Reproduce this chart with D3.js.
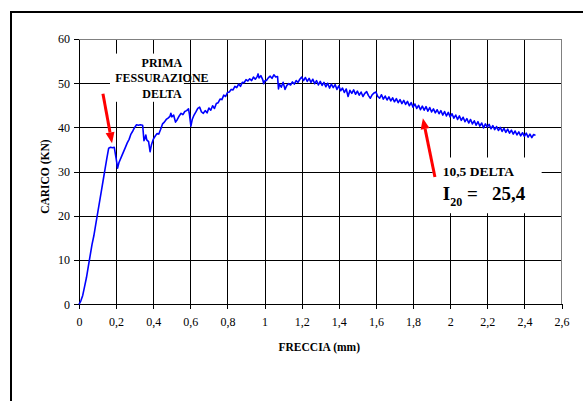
<!DOCTYPE html>
<html>
<head>
<meta charset="utf-8">
<script src="https://cdn.jsdelivr.net/npm/d3@7"></script>
<style>
  body { margin: 0; background: #fff; }
  svg { display: block; }
  svg text { font-family: "Liberation Serif", "DejaVu Serif", serif; }
</style>
</head>
<body>
<svg width="583" height="401"></svg>
<script>
// freccia (mm) / carico (kN)
const freccia = [
  0, 0.01, 0.02, 0.03, 0.04, 0.05, 0.06, 0.07, 0.08, 0.09, 0.10, 0.11, 0.12, 0.13, 0.14, 0.15, 0.16, 0.17, 0.18, 0.19,
  0.20, 0.208, 0.215, 0.23, 0.25, 0.26, 0.27, 0.28, 0.29, 0.30, 0.31, 0.32, 0.33, 0.343, 0.35, 0.355, 0.36, 0.365, 0.375, 0.383,
  0.39, 0.40, 0.41, 0.42, 0.43, 0.44, 0.45, 0.46, 0.47, 0.48, 0.49, 0.495, 0.50, 0.51, 0.52, 0.53, 0.54, 0.55, 0.56, 0.57,
  0.58, 0.59, 0.595, 0.603, 0.61, 0.62, 0.63, 0.64, 0.65, 0.66, 0.67, 0.68, 0.69, 0.70, 0.71, 0.72, 0.73, 0.74, 0.75, 0.76,
  0.77, 0.78, 0.79, 0.80, 0.81, 0.82, 0.83, 0.84, 0.85, 0.86, 0.87, 0.88, 0.89, 0.90, 0.91, 0.92, 0.93, 0.94, 0.95, 0.96,
  0.965, 0.97, 0.98, 0.99, 0.995, 1.00, 1.01, 1.02, 1.03, 1.04, 1.05, 1.06, 1.07, 1.075, 1.08, 1.09, 1.10, 1.11, 1.12, 1.13,
  1.14, 1.15, 1.16, 1.17, 1.18, 1.19, 1.20, 1.21, 1.22, 1.23, 1.24, 1.25, 1.26, 1.27, 1.28, 1.29, 1.30, 1.31, 1.32, 1.33,
  1.34, 1.35, 1.36, 1.37, 1.38, 1.39, 1.40, 1.41, 1.42, 1.43, 1.44, 1.45, 1.46, 1.47, 1.48, 1.49, 1.50, 1.51, 1.52, 1.53,
  1.54, 1.55, 1.56, 1.57, 1.58, 1.59, 1.60, 1.61, 1.62, 1.63, 1.64, 1.65, 1.66, 1.67, 1.68, 1.69, 1.70, 1.71, 1.72, 1.73,
  1.74, 1.75, 1.76, 1.77, 1.78, 1.79, 1.80, 1.81, 1.82, 1.83, 1.84, 1.85, 1.86, 1.87, 1.88, 1.89, 1.90, 1.91, 1.92, 1.93,
  1.94, 1.95, 1.96, 1.97, 1.98, 1.99, 2.00, 2.01, 2.02, 2.03, 2.04, 2.05, 2.06, 2.07, 2.08, 2.09, 2.10, 2.11, 2.12, 2.13,
  2.14, 2.15, 2.16, 2.17, 2.18, 2.19, 2.20, 2.21, 2.22, 2.23, 2.24, 2.25, 2.26, 2.27, 2.28, 2.29, 2.30, 2.31, 2.32, 2.33,
  2.34, 2.35, 2.36, 2.37, 2.38, 2.39, 2.40, 2.41, 2.42, 2.43, 2.44, 2.45, 2.46
]
const carico = [
  0, 0.8, 2, 4, 6, 8.5, 11, 13.5, 15.5, 18, 20.5, 23, 25.5, 28, 30.5, 33, 35.3, 35.5, 35.4, 35.5,
  33, 30.8, 32, 33.5, 35.5, 36.5, 37.3, 38.5, 39.2, 40, 40.6, 40.5, 40.6, 40.5, 37, 37.5, 38.3, 37.2, 36.8, 34.5,
  36, 37.3, 38, 38.6, 38.5, 39.6, 40.8, 41.2, 41.8, 42.1, 42.5, 43.2, 42.4, 42.8, 41.2, 41.8, 42.6, 43.2, 42.9, 43.6,
  43.8, 44.2, 43, 40.3, 41.8, 42.8, 43.5, 44.3, 44.6, 43.5, 43.2, 43.8, 43.3, 44.4, 43.9, 44.9, 44.3, 45.4, 45.6, 46.4,
  46.3, 47.3, 47.0, 47.9, 48.0, 48.6, 48.5, 49.3, 49.0, 49.8, 49.3, 50.2, 50.1, 50.8, 50.5, 51.0, 50.6, 51.4, 50.9, 51.5,
  52.1, 51.2, 51.7, 50.8, 49.9, 50.5, 50.6, 51.2, 51.6, 51.1, 51.9, 51.4, 51.5, 48.7, 49.8, 49.1, 50.2, 48.6, 49.5, 49.9,
  49.6, 50.3, 49.8, 50.6, 50.2, 50.9, 51.4, 50.6, 51.3, 50.4, 51.1, 50.2, 50.9, 49.9, 50.6, 49.6, 50.4, 49.5, 50.2, 49.2,
  50.0, 48.9, 49.8, 49.0, 49.7, 48.6, 49.4, 48.3, 48.9, 47.9, 48.7, 47.0, 48.4, 47.7, 48.5, 47.5, 48.2, 47.3, 48.0, 47.0,
  47.7, 48.1, 47.2, 46.6, 47.4, 47.8, 48.0, 47.0, 46.6, 47.4, 46.4, 47.1, 46.2, 46.9, 46.0, 46.7, 45.8, 46.5, 45.6, 46.3,
  45.4, 46.1, 45.2, 45.9, 44.9, 45.6, 44.6, 45.3, 44.3, 45.0, 44.0, 44.8, 43.9, 44.7, 43.7, 44.5, 43.5, 44.2, 43.3, 44.0,
  43.1, 43.8, 42.8, 43.6, 42.6, 43.4, 42.4, 43.1, 42.1, 42.8, 41.8, 42.6, 41.6, 42.3, 41.3, 42.0, 41.0, 41.8, 40.8, 41.5,
  40.5, 41.3, 40.3, 41.0, 39.9, 40.8, 40.1, 40.7, 39.7, 40.4, 39.5, 40.2, 39.3, 40.0, 39.1, 39.8, 38.9, 39.6, 38.7, 39.4,
  38.5, 39.2, 38.3, 39.0, 38.1, 38.8, 38.0, 38.7, 37.8, 38.5, 37.7, 38.4, 38.2
]
const xTicks = [0, 0.2, 0.4, 0.6, 0.8, 1, 1.2, 1.4, 1.6, 1.8, 2, 2.2, 2.4, 2.6]
const yTicks = [0, 10, 20, 30, 40, 50, 60]

const svg = d3.select("svg")

// outer frame
svg.append("rect")
    .attr("x", 11).attr("y", 12)
    .attr("width", 600).attr("height", 420)
    .attr("fill", "#fff").attr("stroke", "#000").attr("stroke-width", 2)

const margin = {top: 39, left: 79}
const width = 482.5, height = 265.3

const x = d3.scaleLinear().domain([0, 2.6]).range([0, width])
const y = d3.scaleLinear().domain([0, 60]).range([height, 0])

const g = svg.append("g").attr("transform", `translate(${margin.left},${margin.top})`)

// grid
g.selectAll(".vgrid").data(xTicks.slice(1, -1)).enter().append("line")
    .attr("x1", d => Math.round(x(d)) + 0.5).attr("x2", d => Math.round(x(d)) + 0.5)
    .attr("y1", 0).attr("y2", height)
    .attr("stroke", "#000").attr("stroke-width", 1).attr("shape-rendering", "crispEdges")
g.selectAll(".hgrid").data(yTicks.slice(1, -1)).enter().append("line")
    .attr("y1", d => Math.round(y(d)) + 0.5).attr("y2", d => Math.round(y(d)) + 0.5)
    .attr("x1", 0).attr("x2", width)
    .attr("stroke", "#000").attr("stroke-width", 1).attr("shape-rendering", "crispEdges")

// top/right border of plot area
g.append("path")
    .attr("d", `M0,0.5H${width}V${height}`)
    .attr("fill", "none").attr("stroke", "#808080").attr("stroke-width", 1)
    .attr("shape-rendering", "crispEdges")

const fmt = d => String(d).replace(".", ",")

const xAxis = g.append("g")
    .attr("transform", `translate(0,${height})`)
    .call(d3.axisBottom(x).tickValues(xTicks).tickFormat(fmt).tickSize(5).tickSizeOuter(0))
const yAxis = g.append("g")
    .call(d3.axisLeft(y).tickValues(yTicks).tickSize(5).tickSizeOuter(0))

for (const ax of [xAxis, yAxis]) {
    ax.attr("font-family", null).attr("font-size", null)
    ax.select(".domain").attr("stroke", "#000").attr("shape-rendering", "crispEdges")
    ax.selectAll(".tick line").attr("stroke", "#000").attr("shape-rendering", "crispEdges")
    ax.selectAll("text")
        .attr("fill", "#000")
        .style("font-size", "12px")
}
xAxis.selectAll("text").attr("y", 13)
yAxis.selectAll("text").attr("x", -9)

// curve
const line = d3.line().x(d => x(d[0])).y(d => y(d[1]))
g.append("path")
    .datum(freccia.map((f, i) => [f, carico[i]]))
    .attr("d", line)
    .attr("fill", "none")
    .attr("stroke", "#0000ff")
    .attr("stroke-width", 1.6)
    .attr("stroke-linejoin", "round")

// axis titles
svg.append("text")
    .attr("transform", `translate(49,${margin.top + height / 2 + 5}) rotate(-90)`)
    .attr("text-anchor", "middle")
    .style("font-size", "11.5px").style("font-weight", "bold")
    .text("CARICO (KN)")
svg.append("text")
    .attr("x", margin.left + width / 2 - 1).attr("y", 351)
    .attr("text-anchor", "middle")
    .style("font-size", "11.5px").style("font-weight", "bold")
    .text("FRECCIA (mm)")

// annotation: first crack
g.append("rect")
    .attr("x", x(0.167)).attr("y", y(56.7))
    .attr("width", x(0.565) - x(0.167)).attr("height", y(45.8) - y(56.7))
    .attr("fill", "#fff")
const note1 = g.append("text")
    .attr("text-anchor", "middle")
    .style("font-size", "12px").style("font-weight", "bold")
;["PRIMA", "FESSURAZIONE", "DELTA"].forEach((t, i) => {
    note1.append("tspan")
        .attr("x", x(0.447)).attr("y", y(53.7) + i * 15.5)
        .text(t)
})

// annotation: I20
g.append("rect")
    .attr("x", x(1.906)).attr("y", y(33.2))
    .attr("width", x(2.493) - x(1.906)).attr("height", y(20.6) - y(33.2))
    .attr("fill", "#fff")
g.append("text")
    .attr("x", x(1.96)).attr("y", y(29.1))
    .style("font-size", "13.5px").style("font-weight", "bold")
    .text("10,5 DELTA")
const i20 = g.append("text")
    .attr("x", x(1.96)).attr("y", y(23.7))
    .style("font-size", "19px").style("font-weight", "bold")
i20.append("tspan").text("I")
i20.append("tspan").attr("dy", 6).style("font-size", "12px").text("20")
i20.append("tspan").attr("dy", -6).attr("xml:space", "preserve").text(" =   25,4")

// red arrows
const arrows = [
    {from: [0.129, 47.6], to: [0.178, 36.4]},
    {from: [1.918, 28.8], to: [1.853, 42.1]}
]
arrows.forEach(a => {
    const x0 = x(a.from[0]), y0 = y(a.from[1])
    const x1 = x(a.to[0]), y1 = y(a.to[1])
    const ang = Math.atan2(y1 - y0, x1 - x0)
    const headLen = 11, headW = 4.5
    const bx = x1 - headLen * Math.cos(ang), by = y1 - headLen * Math.sin(ang)
    g.append("line")
        .attr("x1", x0).attr("y1", y0).attr("x2", bx).attr("y2", by)
        .attr("stroke", "#ff0000").attr("stroke-width", 3)
    g.append("path")
        .attr("d", `M${x1},${y1}L${bx + headW * Math.sin(ang)},${by - headW * Math.cos(ang)}L${bx - headW * Math.sin(ang)},${by + headW * Math.cos(ang)}Z`)
        .attr("fill", "#ff0000")
})
</script>
</body>
</html>
